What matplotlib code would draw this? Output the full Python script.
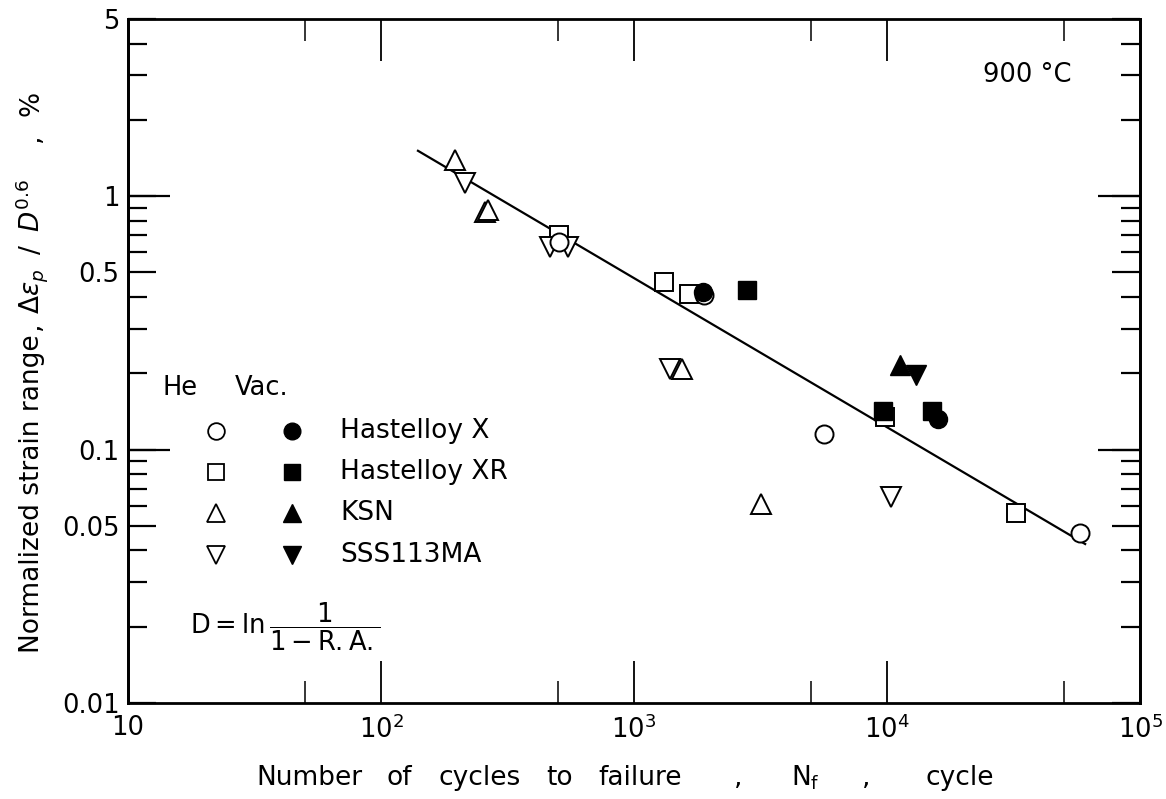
import numpy as np
import matplotlib
matplotlib.use("Agg")
import matplotlib.pyplot as plt
from matplotlib.ticker import FixedLocator, FixedFormatter, NullFormatter

plt.rcParams['font.family'] = ['DejaVu Sans']
plt.rcParams['mathtext.fontset'] = 'dejavusans'

# ---- data ----
hx_he_n = [507, 1893, 5640, 57900]
hx_he_e = [0.66, 0.406, 0.115, 0.047]
hx_vac_n = [1870, 15900]
hx_vac_e = [0.42, 0.132]

hxr_he_n = [505, 1315, 1648, 9820, 32400]
hxr_he_e = [0.70, 0.458, 0.411, 0.135, 0.056]
hxr_vac_n = [2800, 9640, 15070]
hxr_vac_e = [0.427, 0.142, 0.142]

ksn_he_n = [196, 258, 266, 1548, 3177]
ksn_he_e = [1.39, 0.867, 0.88, 0.208, 0.061]
ksn_vac_n = [11240]
ksn_vac_e = [0.216]

sss_he_n = [215, 466, 548, 1387, 10380]
sss_he_e = [1.13, 0.63, 0.63, 0.208, 0.065]
sss_vac_n = [13030]
sss_vac_e = [0.197]

fit_n = [140, 60700]
fit_e = [1.51, 0.0424]

legend_names = ['Hastelloy X', 'Hastelloy XR', 'KSN', 'SSS113MA']
legend_markers = ['o', 's', '^', 'v']

yticks_major = [0.01, 0.05, 0.1, 0.5, 1, 5]
yticklabels = ['0.01', '0.05', '0.1', '0.5', '1', '5']
xticks_major = [10, 100, 1000, 10000, 100000]
xticklabels = ['10', r'$10^{2}$', r'$10^{3}$', r'$10^{4}$', r'$10^{5}$']

W, H = 1166, 799
FS = 18.5
fig = plt.figure(figsize=(W / 100, H / 100), dpi=100)
ax = fig.add_axes([128 / W, 1 - 703 / H, 1012 / W, 684 / H])
ax.set_xscale('log')
ax.set_yscale('log')
ax.set_xlim(10, 1e5)
ax.set_ylim(0.01, 5)

for s in ax.spines.values():
    s.set_linewidth(2.0)

# fitted line
ax.plot(fit_n, fit_e, color='black', lw=1.6, zorder=2)

kw_open = dict(linestyle='none', markerfacecolor='white', markeredgecolor='black',
               markeredgewidth=1.4, zorder=3)
kw_fill = dict(linestyle='none', color='black', zorder=4)

ax.plot(hx_vac_n, hx_vac_e, 'o', ms=13, **kw_fill)
ax.plot(hxr_vac_n, hxr_vac_e, 's', ms=12.5, **kw_fill)
ax.plot(ksn_vac_n, ksn_vac_e, '^', ms=14, **kw_fill)
ax.plot(sss_vac_n, sss_vac_e, 'v', ms=14, **kw_fill)
ax.plot(hxr_he_n, hxr_he_e, 's', ms=12.5, **kw_open)
ax.plot(ksn_he_n, ksn_he_e, '^', ms=14, **kw_open)
ax.plot(sss_he_n, sss_he_e, 'v', ms=14, **kw_open)
ax.plot(hx_he_n, hx_he_e, 'o', ms=13, **kw_open)

# ticks
ax.xaxis.set_major_locator(FixedLocator([100, 1000, 10000]))
ax.xaxis.set_major_formatter(NullFormatter())
ax.xaxis.set_minor_locator(FixedLocator([50, 500, 5000, 50000]))
ax.xaxis.set_minor_formatter(NullFormatter())
ax.tick_params(axis='x', which='major', direction='in', length=30, width=1.3,
               top=True, bottom=True)
ax.tick_params(axis='x', which='minor', direction='in', length=16, width=1.1,
               top=True, bottom=True)

ax.yaxis.set_major_locator(FixedLocator(yticks_major))
ax.yaxis.set_major_formatter(FixedFormatter(yticklabels))
minor_y = [v * d for d in [0.01, 0.1, 1] for v in range(2, 10) if v != 5 and v * d < 5]
ax.yaxis.set_minor_locator(FixedLocator(minor_y))
ax.yaxis.set_minor_formatter(NullFormatter())
ax.tick_params(axis='y', which='major', direction='in', length=20, width=1.6,
               left=True, right=True, labelsize=FS, pad=6)
ax.tick_params(axis='y', which='minor', direction='in', length=14, width=1.6,
               left=True, right=True)

# longer ticks at decades on y
for side in ['left', 'right']:
    sec = ax.secondary_yaxis(side)
    sec.set_yticks([0.1, 1])
    sec.set_yticklabels([])
    sec.yaxis.set_minor_locator(FixedLocator([]))
    sec.tick_params(axis='y', which='major', direction='in', length=30, width=1.6)
    sec.spines[side].set_linewidth(2.0)

# x tick labels
for v, lab in zip(xticks_major, xticklabels):
    ax.text(v, -0.018, lab, transform=ax.get_xaxis_transform(), ha='center', va='top',
            fontsize=FS)

def fx(px):
    return px / W

def fy(py):
    return 1 - py / H

# x axis title pieces
xl_base = 785
XFS = FS + 0.5
for word, left in [('Number', 256), ('of', 387), ('cycles', 438), ('to', 546), ('failure', 598)]:
    fig.text(fx(left), fy(xl_base), word, ha='left', va='baseline', fontsize=XFS)
fig.text(fx(738), fy(xl_base), ',', ha='center', va='baseline', fontsize=XFS)
fig.text(fx(805), fy(xl_base), r'$\mathregular{N_f}$', ha='center', va='baseline',
         fontsize=XFS)
fig.text(fx(866), fy(xl_base), ',', ha='center', va='baseline', fontsize=XFS)
fig.text(fx(960), fy(xl_base), 'cycle', ha='center', va='baseline', fontsize=XFS)

# y axis title pieces (rotated, baseline at x=39)
yl_x = 39
kw_rot = dict(rotation=90, rotation_mode='anchor', ha='left', va='baseline', fontsize=XFS)
fig.text(fx(yl_x), fy(653), 'Normalized strain range', **kw_rot)
fig.text(fx(yl_x), fy(330), ',', **kw_rot)
fig.text(fx(yl_x), fy(314), r'$\Delta\varepsilon_p\;\;/\;\;D^{0.6}$', **kw_rot)
fig.text(fx(yl_x), fy(142), ',', **kw_rot)
fig.text(fx(yl_x), fy(116), '%', **kw_rot)

fig.text(fx(983), fy(75), '900 °C', ha='left', va='center', fontsize=FS)

# legend (manual)
fig.text(fx(180), fy(388), 'He', ha='center', va='center', fontsize=FS)
fig.text(fx(262), fy(388), 'Vac.', ha='center', va='center', fontsize=FS)
rows_y = [431, 472, 513, 555]
for yy, m, name in zip(rows_y, legend_markers, legend_names):
    msz = 12 if m in 'os' else 13
    fig.lines.append(plt.Line2D([fx(216)], [fy(yy)], marker=m, ms=msz,
                                mfc='white', mec='black', mew=1.3, ls='none',
                                transform=fig.transFigure))
    fig.lines.append(plt.Line2D([fx(292)], [fy(yy)], marker=m, ms=msz,
                                color='black', ls='none', transform=fig.transFigure))
    fig.text(fx(340), fy(yy), name, ha='left', va='center', fontsize=XFS)

fig.text(fx(190), fy(627), r'$\mathregular{D = ln}\,\dfrac{1}{\mathregular{1 - R.A.}}$',
         ha='left', va='center', fontsize=FS)

fig.savefig('out.png', dpi=100)
